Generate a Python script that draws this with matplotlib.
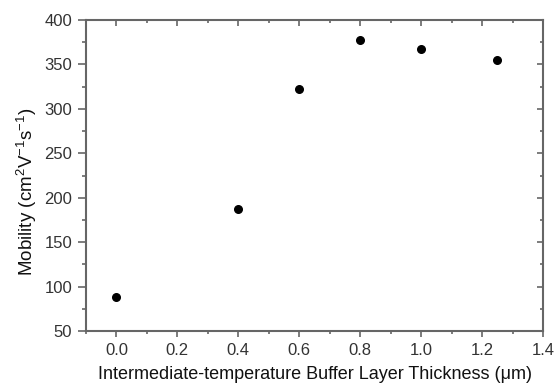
import matplotlib
matplotlib.use("Agg")
import matplotlib.pyplot as plt
from matplotlib.ticker import MultipleLocator

plt.rcParams['font.family'] = ['Liberation Sans', 'DejaVu Sans']
plt.rcParams['mathtext.fontset'] = 'custom'
plt.rcParams['mathtext.rm'] = 'Liberation Sans'

# data
thickness = [0.0, 0.4, 0.6, 0.8, 1.0, 1.25]
mobility = [88, 187, 322, 377, 367, 355]

fig = plt.figure(figsize=(5.57, 3.87), dpi=100)
ax = fig.add_axes([86 / 557, 1 - 331 / 387, (543 - 86) / 557, (331 - 20) / 387])

ax.scatter(thickness, mobility, s=30, color='black', zorder=3)

ax.set_xlim(-0.1, 1.4)
ax.set_ylim(50, 400)
ax.xaxis.set_major_locator(MultipleLocator(0.2))
ax.xaxis.set_minor_locator(MultipleLocator(0.1))
ax.yaxis.set_major_locator(MultipleLocator(50))
ax.yaxis.set_minor_locator(MultipleLocator(25))

spine_col = '#666666'
text_col = '#333333'
for s in ax.spines.values():
    s.set_color(spine_col)
    s.set_linewidth(1.5)

# bottom/left ticks point out, top/right ticks point in
ax.tick_params(which='both', colors=spine_col, labelcolor=text_col, labelsize=12, width=1.2)
ax.tick_params(axis='x', which='both', direction='out', top=False, pad=4)
ax.tick_params(axis='x', which='major', length=4.5)
ax.tick_params(axis='x', which='minor', length=2.5)
ax.tick_params(axis='y', which='both', direction='out', right=False, pad=4)
ax.tick_params(axis='y', which='major', length=6)
ax.tick_params(axis='y', which='minor', length=3)
ax.xaxis.set_major_formatter(plt.FuncFormatter(lambda v, p: f"{v:.1f}"))

axt = ax.secondary_xaxis('top')
axt.xaxis.set_major_locator(MultipleLocator(0.2))
axt.xaxis.set_minor_locator(MultipleLocator(0.1))
axt.tick_params(which='both', direction='in', colors=spine_col, labeltop=False, width=1.2)
axt.tick_params(which='major', length=4.5)
axt.tick_params(which='minor', length=2.5)
axt.spines['top'].set_visible(False)

axr = ax.secondary_yaxis('right')
axr.yaxis.set_major_locator(MultipleLocator(50))
axr.yaxis.set_minor_locator(MultipleLocator(25))
axr.tick_params(which='both', direction='in', colors=spine_col, labelright=False, width=1.2)
axr.tick_params(which='major', length=4.5)
axr.tick_params(which='minor', length=2.5)
axr.spines['right'].set_visible(False)

ax.set_xlabel('Intermediate-temperature Buffer Layer Thickness (\u03bcm)', fontsize=13, color='#111111', labelpad=6)
ax.set_ylabel('Mobility (cm$^{2}$V$^{-1}$s$^{-1}$)', fontsize=13.5, color='#111111')
ax.yaxis.set_label_coords(-0.103, 0.447)

fig.savefig('out.png', dpi=100)
